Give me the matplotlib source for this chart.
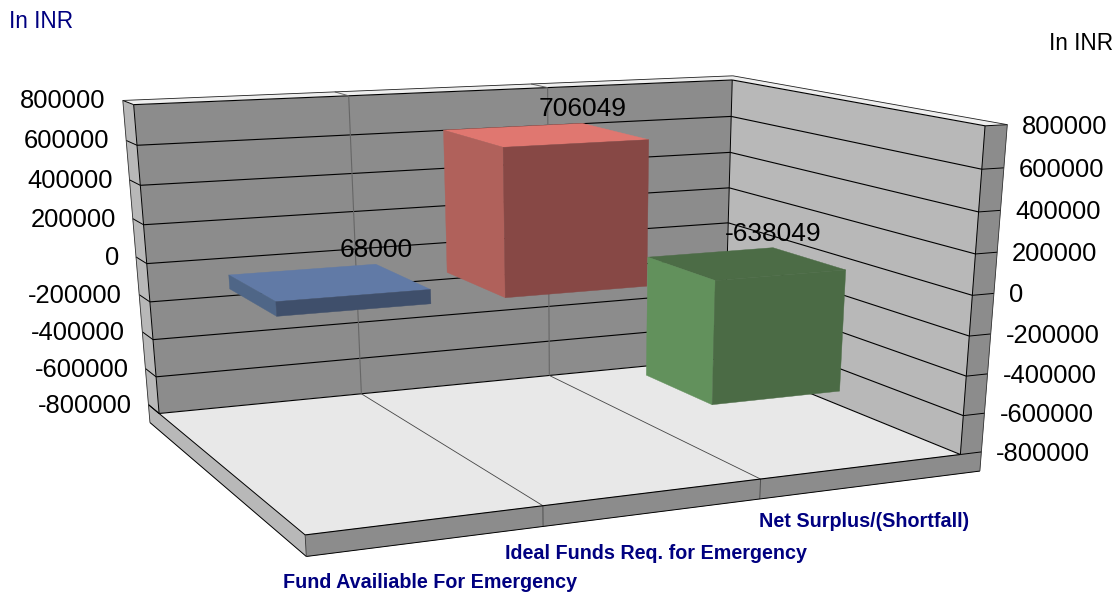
import numpy as np
import matplotlib
matplotlib.use('Agg')
import matplotlib.pyplot as plt
from matplotlib.patches import Polygon

plt.rcParams['font.family'] = ['Liberation Sans', 'DejaVu Sans']

# data
categories = ['Fund Availiable For Emergency', 'Ideal Funds Req. for Emergency', 'Net Surplus/(Shortfall)']
values = [68000, 706049, -638049]
y_ticks = [800000, 600000, 400000, 200000, 0, -200000, -400000, -600000, -800000]

top_colors = ['#617aa6', '#e07770', '#4c6c46']
side_colors = ['#4f6687', '#b0615b', '#62915c']
front_colors = ['#3f4f6b', '#874845', '#4b6b45']
label_drop = [41, 41, 35]

# camera: scene point (category, value, depth) -> picture pixel
# depth 0 = front of floor, 1 = back wall
camera_points = [
    (0, 800000, 1, 134.3, 105), (0, -800000, 1, 158.3, 413.3), (3, 800000, 1, 731.7, 80),
    (3, 800000, 0, 986, 126), (3, -800000, 0, 960, 454.3), (0, -800000, 0, 305, 534.3),
    (1, -800000, 1, 361, 394.3), (1, 800000, 1, 348.3, 95.7), (2, -800000, 1, 552, 376),
    (2, -800000, 0, 759.3, 479), (1, -800000, 0, 543.3, 506), (3, 0, 0, 972.7, 295.7),
    (0, 0, 1, 146.7, 263.3), (3, 0, 1, 727, 222),
]
A = []
for x, y, z, u, v in camera_points:
    X = [x, y / 100000, z, 1]
    A.append(X + [0, 0, 0, 0] + [-u * c for c in X])
    A.append([0, 0, 0, 0] + X + [-v * c for c in X])
P = np.linalg.svd(np.array(A))[2][-1].reshape(3, 4)


def proj(x, y, z):
    h = P @ np.array([x, y / 100000, z, 1.0])
    return h[0] / h[2], h[1] / h[2]


def face(pts, color, zorder=1):
    ax.add_patch(Polygon([proj(*p) for p in pts], closed=True, facecolor=color, edgecolor=color, lw=0.3, zorder=zorder))


def edge(p1, p2, color='black', lw=0.8):
    a, b = proj(*p1), proj(*p2)
    ax.plot([a[0], b[0]], [a[1], b[1]], color=color, lw=lw, solid_capstyle='butt', zorder=2)


fig = plt.figure(figsize=(11.18, 5.94), dpi=100)
ax = fig.add_axes([0, 0, 1, 1])
ax.set_xlim(0, 1118)
ax.set_ylim(594, 0)
ax.axis('off')

ymax, ymin, ybase = 800000, -800000, -900000
xr, zb = 3.11, 1.09  # wall thickness

# walls and floor
face([(0, ymin, 1), (3, ymin, 1), (3, ymax, 1), (0, ymax, 1)], '#8c8c8c')
face([(3, ymin, 0), (3, ymin, 1), (3, ymax, 1), (3, ymax, 0)], '#b8b8b8')
face([(0, ymin, 0), (3, ymin, 0), (3, ymin, 1), (0, ymin, 1)], '#e8e8e8')
face([(0, ymin, 1), (0, ymin, zb), (0, ymax, zb), (0, ymax, 1)], '#b8b8b8')
face([(3, ymin, 0), (xr, ymin, 0), (xr, ymax, 0), (3, ymax, 0)], '#8c8c8c')
face([(0, ymax, 1), (0, ymax, zb), (xr, ymax, zb), (xr, ymax, 1)], '#eeeeee')
face([(3, ymax, 0), (3, ymax, 1), (xr, ymax, 1), (xr, ymax, 0)], '#eeeeee')
face([(0, ybase, 0), (xr, ybase, 0), (xr, ymin, 0), (0, ymin, 0)], '#8c8c8c')
face([(0, ybase, 0), (0, ybase, zb), (0, ymin, zb), (0, ymin, 0)], '#b8b8b8')

# grid on the walls
for t in y_ticks:
    edge((0, t, zb), (0, t, 1), lw=0.7)
    edge((0, t, 1), (3, t, 1))
    edge((3, t, 1), (3, t, 0))
    edge((3, t, 0), (xr, t, 0), lw=0.7)
for i in [1, 2]:
    edge((i, ymax, zb), (i, ymax, 1), '#666666', 0.7)
    edge((i, ymax, 1), (i, ymin, 1), '#666666', 0.8)
    edge((i, ymin, 1), (i, ymin, 0), '#444444', 0.6)
    edge((i, ymin, 0), (i, ybase, 0), '#444444', 0.6)

# outlines
edge((3, ymax, 1), (3, ymin, 1), lw=0.7)
edge((0, ymax, 1), (0, ymin, 1), lw=0.7)
edge((0, ymax, zb), (0, ymin, zb), '#333333', 0.6)
edge((3, ymax, 0), (3, ymin, 0), lw=0.7)
edge((xr, ymax, 0), (xr, ymin, 0), '#333333', 0.6)
edge((0, ymax, zb), (xr, ymax, zb), '#222222', 0.6)
edge((xr, ymax, zb), (xr, ymax, 0), '#222222', 0.6)
edge((0, ymin, 0), (3, ymin, 0))
edge((0, ymin, 0), (0, ymin, zb), lw=0.7)
edge((0, ybase, 0), (xr, ybase, 0), lw=0.7)
edge((0, ybase, 0), (0, ybase, zb), lw=0.7)
edge((0, ybase, 0), (0, ymin, 0), '#333333', 0.6)
edge((0, ymin, zb), (0, ybase, zb), '#333333', 0.6)
edge((xr, ymin, 0), (xr, ybase, 0), '#333333', 0.6)

# bars
z0, z1 = 0.345, 0.65
for i, val in enumerate(values):
    x0, x1 = i + 0.165, i + 0.83
    hi, lo = max(val, 0), min(val, 0)
    face([(x0, hi, z0), (x0, hi, z1), (x1, hi, z1), (x1, hi, z0)], top_colors[i], zorder=3)
    face([(x0, lo, z0), (x0, lo, z1), (x0, hi, z1), (x0, hi, z0)], side_colors[i], zorder=3)
    face([(x0, lo, z0), (x1, lo, z0), (x1, hi, z0), (x0, hi, z0)], front_colors[i], zorder=3)

# value labels, centred above the back right corner of the bar top
for i, val in enumerate(values):
    u, v = proj(i + 0.83, max(val, 0), z1)
    ax.text(u, v - 14, str(val), fontsize=19, ha='center', va='center', color='black', zorder=4)

# axis labels
for t in y_ticks:
    u, v = proj(0, t, zb)
    ax.text(u - 17, v + 1, str(t), fontsize=18.4, ha='right', va='center', color='black', zorder=4)
    u, v = proj(xr, t, 0)
    ax.text(u + 15, v + 2, str(t), fontsize=18.4, ha='left', va='center', color='black', zorder=4)

for i, name in enumerate(categories):
    u, v = proj(i + 0.5, ybase, 0)
    ax.text(u + 2.5, v + label_drop[i], name, fontsize=14.2, fontweight='bold', ha='center', va='center', color='#000080', zorder=4)

ax.text(9, 22, 'In INR', fontsize=16.3, ha='left', va='center', color='#000080')
ax.text(1113, 44, 'In INR', fontsize=16.3, ha='right', va='center', color='black')

fig.savefig('out.png', dpi=100)
